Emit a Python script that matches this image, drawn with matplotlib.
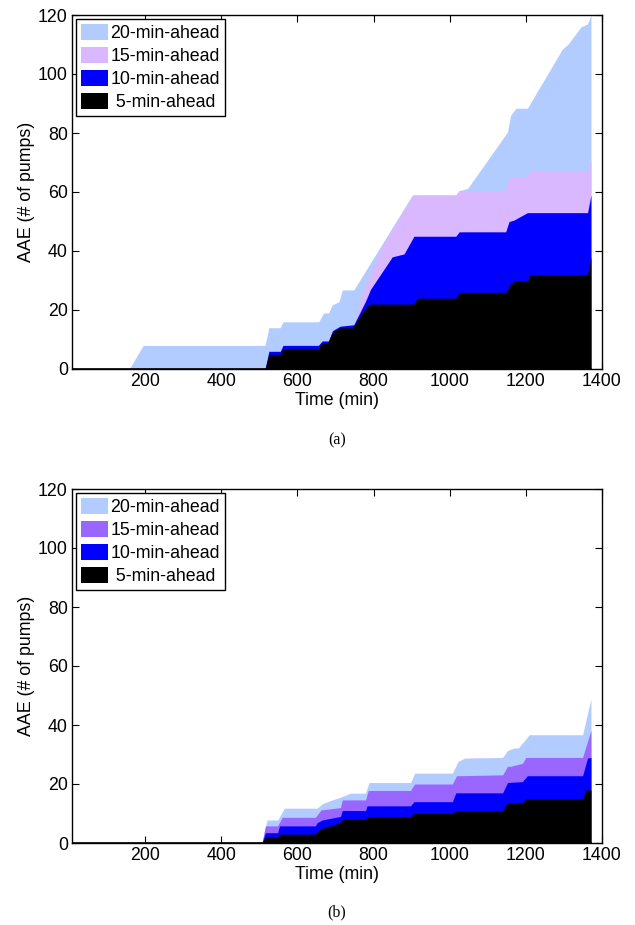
import matplotlib
matplotlib.use("Agg")
import matplotlib.pyplot as plt
from matplotlib.patches import Patch

plt.rcParams['font.family'] = ['Liberation Sans', 'DejaVu Sans']

# ---------------- data (a) ----------------
t5a = [8, 515, 525, 555, 562, 655, 665, 680, 690, 698, 712, 745, 775, 790, 905, 915, 1015, 1025, 1148, 1160, 1172, 1205, 1210, 1362, 1371]
v5a = [0, 0, 5, 5, 7, 7, 9, 9, 12, 13, 14, 14, 20, 22, 22, 24, 24, 26, 26, 29, 30, 30, 32, 32, 38]

t10a = [8, 515, 525, 555, 562, 655, 665, 682, 692, 712, 748, 779, 792, 849, 880, 906, 1016, 1025, 1147, 1156, 1169, 1204, 1362, 1371]
v10a = [0, 0, 6, 6, 8, 8, 9.5, 9.5, 13, 14.5, 15, 23, 27, 38, 39, 45, 45, 46.5, 46.5, 50, 50.5, 53, 53, 59]

t15a = [8, 515, 525, 555, 562, 655, 665, 682, 692, 712, 748, 775, 823, 905, 1016, 1025, 1145, 1152, 1160, 1204, 1210, 1362, 1371]
v15a = [0, 0, 6, 6, 8, 8, 9.5, 9.5, 13, 14.5, 15, 27, 42, 59, 59, 60.5, 60.5, 63.5, 65, 65, 67, 67, 71]

t20a = [8, 158, 195, 515, 525, 555, 562, 656, 669, 682, 691, 709, 718, 748, 902, 1016, 1025, 1047, 1152, 1160, 1174, 1204, 1296, 1310, 1345, 1362, 1371]
v20a = [0, 0, 8, 8, 14, 14, 16, 16, 19, 19, 21.7, 22.8, 26.8, 26.8, 59, 59, 60.5, 61.2, 80.4, 86, 88.4, 88.4, 108.5, 110, 116, 117, 120]

# ---------------- data (b) ----------------
t5b = [8, 507, 516, 548, 553, 647, 652, 665, 691, 713, 718, 779, 783, 897, 906, 1007, 1016, 1139, 1152, 1191, 1200, 1349, 1358, 1371]
v5b = [0, 0, 2, 2, 3, 3, 4, 5, 6, 7, 8, 8, 9, 9, 10, 10, 11, 11, 13.7, 13.7, 15, 15, 18, 18]

t10b = [8, 507, 516, 548, 553, 647, 652, 665, 713, 718, 779, 783, 897, 906, 1007, 1016, 1139, 1152, 1191, 1204, 1349, 1362, 1371]
v10b = [0, 0, 3.5, 3.5, 5.8, 5.8, 6.9, 7.8, 9, 11, 11, 12.6, 12.6, 14, 14, 17, 17, 20.5, 20.8, 22.8, 22.8, 28.8, 29]

t15b = [8, 507, 516, 548, 560, 647, 662, 713, 718, 779, 786, 897, 908, 1007, 1018, 1139, 1152, 1160, 1191, 1200, 1349, 1371]
v15b = [0, 0, 5.8, 5.8, 8.7, 8.7, 11.2, 12, 14.6, 14.6, 17.8, 17.8, 20, 20, 22.8, 23.1, 26, 26, 27, 29, 29, 38.2]

t20b = [8, 507, 520, 548, 566, 652, 665, 691, 713, 739, 779, 788, 897, 908, 1007, 1022, 1040, 1139, 1152, 1169, 1180, 1209, 1349, 1371]
v20b = [0, 0, 7.8, 7.8, 11.8, 11.8, 13.3, 14.6, 15.5, 16.9, 16.9, 20.5, 20.5, 23.7, 23.7, 27.7, 28.8, 29, 31.4, 32.2, 32.2, 36.7, 36.7, 48.9]

labels = ['20-min-ahead', '15-min-ahead', '10-min-ahead', ' 5-min-ahead ']
colors_a = ['#b3ccff', '#d9b8ff', '#0000ff', '#000000']
colors_b = ['#b3ccff', '#9966ff', '#0000ff', '#000000']
xticks = [200, 400, 600, 800, 1000, 1200, 1400]
yticks = [0, 20, 40, 60, 80, 100, 120]

FS = 12.8
fig = plt.figure(figsize=(6.35, 9.25), dpi=100)
ax1 = fig.add_axes([72/635, 1-369/925, 530/635, 354/925])
ax2 = fig.add_axes([72/635, 1-843/925, 530/635, 354/925])

def draw(ax, series, colors):
    for (t, v), c in zip(series, colors):
        ax.fill_between(t, 0, v, color=c, linewidth=0, zorder=2)
    ax.plot([8, 1371], [0, 0], color='black', lw=1.2, zorder=3)
    ax.set_xlim(8, 1400)
    ax.set_ylim(0, 120)
    ax.set_xticks(xticks)
    ax.set_yticks(yticks)
    ax.tick_params(direction='in', top=True, right=True, length=5, width=0.8,
                   labelsize=FS, pad=3)
    for s in ax.spines.values():
        s.set_linewidth(1.0)
        s.set_zorder(4)
    ax.set_xlabel('Time (min)', fontsize=FS, labelpad=1)
    ax.set_ylabel('AAE (# of pumps)', fontsize=FS, labelpad=2)
    handles = [Patch(facecolor=c, edgecolor='none') for c in colors]
    leg = ax.legend(handles, labels, loc='upper left', fontsize=FS,
                    frameon=True, fancybox=False, framealpha=1,
                    edgecolor='black', borderaxespad=0.22, borderpad=0.3,
                    labelspacing=0.27, handlelength=1.5, handleheight=1.0,
                    handletextpad=0.15)
    leg.get_frame().set_linewidth(1.0)
    leg.set_zorder(5)

draw(ax1, [(t20a, v20a), (t15a, v15a), (t10a, v10a), (t5a, v5a)], colors_a)
draw(ax2, [(t20b, v20b), (t15b, v15b), (t10b, v10b), (t5b, v5b)], colors_b)

fig.text(337/635, 1-440/925, '(a)', ha='center', va='center',
         family=['Liberation Serif', 'DejaVu Serif'], fontsize=11.5)
fig.text(337/635, 1-912/925, '(b)', ha='center', va='center',
         family=['Liberation Serif', 'DejaVu Serif'], fontsize=11.5)

fig.savefig('out.png', dpi=100)
